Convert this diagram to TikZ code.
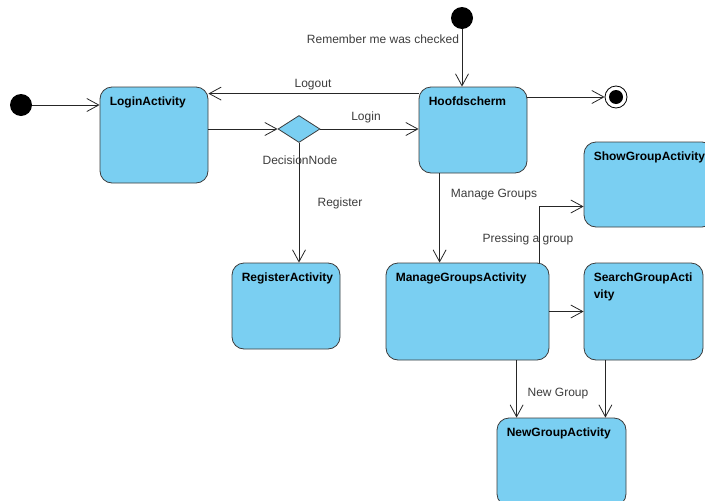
\documentclass[tikz,border=0pt]{standalone}
\usepackage{fontspec}
\setmainfont{Liberation Sans}
\usetikzlibrary{arrows.meta,shapes.geometric,calc}
\definecolor{actblue}{RGB}{122,207,242}
\definecolor{edgegray}{RGB}{60,60,60}

\begin{document}
\begin{tikzpicture}[x=1pt, y=-1pt,
  every node/.style={font=\fontsize{12}{17}\selectfont, text=edgegray},
  activity/.style={draw=edgegray, fill=actblue, rounded corners=12pt, line width=0.8pt, inner sep=0pt},
  title/.style={anchor=base west, inner sep=0pt, align=left, font=\fontsize{12}{17}\selectfont\bfseries, text=black},
  lbl/.style={anchor=base, inner sep=0pt},
  startdot/.style={circle, fill=black, minimum size=22pt, inner sep=0pt},
  flow/.style={draw=black!85, line width=0.8pt, -{Straight Barb[length=12pt,width=13pt]}}]
\clip (0,0) rectangle (705,501);

% initial and final states
\node [startdot] (start1) at (21,105) {};
\node [startdot] (start2) at (462,18) {};
\node [circle, draw=black, line width=0.8pt, minimum size=22pt, inner sep=0pt, fill=white] (final) at (616,97) {};
\node [circle, fill=black, minimum size=14pt, inner sep=0pt] (finaldot) at (final) {};

% activities
\node [activity, minimum width=108pt, minimum height=96pt] (login) at (154,135) {};
\node [title] (login-t) at ($(login.north west)+(10,18.5)$) {LoginActivity};
\node [diamond, draw=edgegray, fill=actblue, line width=0.8pt, minimum width=42pt, minimum height=27pt, inner sep=0pt] (decision) at (299,129) {};
\node [activity, minimum width=108pt, minimum height=86pt] (register) at (286,306) {};
\node [title] (register-t) at ($(register.north west)+(10,18.5)$) {RegisterActivity};
\node [activity, minimum width=108pt, minimum height=86pt] (hoofd) at (473,130) {};
\node [title] (hoofd-t) at ($(hoofd.north west)+(10,18.5)$) {Hoofdscherm};
\node [activity, minimum width=163pt, minimum height=97pt] (manage) at (467.5,311.5) {};
\node [title] (manage-t) at ($(manage.north west)+(10,18.5)$) {ManageGroupsActivity};
\node [activity, minimum width=130pt, minimum height=85pt] (show) at (649,184.5) {};
\node [title] (show-t) at ($(show.north west)+(10,18.5)$) {ShowGroupActivity};
\node [activity, minimum width=119pt, minimum height=97pt] (search) at (643.5,311.5) {};
\node [title] (search-t) at ($(search.north west)+(10,35.5)$) {SearchGroupActi\\vity};
\node [activity, minimum width=129pt, minimum height=88pt] (newg) at (561.5,462) {};
\node [title] (newg-t) at ($(newg.north west)+(10,18.5)$) {NewGroupActivity};

% transitions
\draw [flow] (start1) -- (start1 -| login.west);
\draw [flow] ($(hoofd.north west)+(0,7)$) -- ($(login.north east)+(0,7)$);
\draw [flow] (login.east |- decision) -- (decision.west);
\draw [flow] (decision.east) -- (decision -| hoofd.west);
\draw [flow] (decision.south) -- (decision.south |- register.north);
\draw [flow] (start2) -- (start2 |- hoofd.north);
\draw [flow] (hoofd.east |- final) -- (final);
\coordinate (mg) at ($(hoofd.south west)+(21,0)$);
\draw [flow] (mg) -- (mg |- manage.north);
\coordinate (pg) at ($(manage.north east)+(-10,0)$);
\draw [flow] (pg) |- ($(show.west)+(0,22)$);
\draw [flow] (manage.east) -- (search.west);
\coordinate (ng1) at ($(newg.north west)+(20,0)$);
\coordinate (ng2) at ($(newg.north east)+(-21,0)$);
\draw [flow] (manage.south -| ng1) -- (ng1);
\draw [flow] (search.south -| ng2) -- (ng2);

% labels
\node [lbl] (remember-l) at (383,43) {Remember me was checked};
\node [lbl] (logout-l) at (313,87) {Logout};
\node [lbl] (login-l) at (366,120) {Login};
\node [lbl] (decision-l) at (300,164) {DecisionNode};
\node [lbl] (register-l) at (340,206) {Register};
\node [lbl] (manage-l) at (494,197) {Manage Groups};
\node [lbl] (pressing-l) at (528,242) {Pressing a group};
\node [lbl] (newg-l) at (558,396) {New Group};
\end{tikzpicture}
\end{document}
